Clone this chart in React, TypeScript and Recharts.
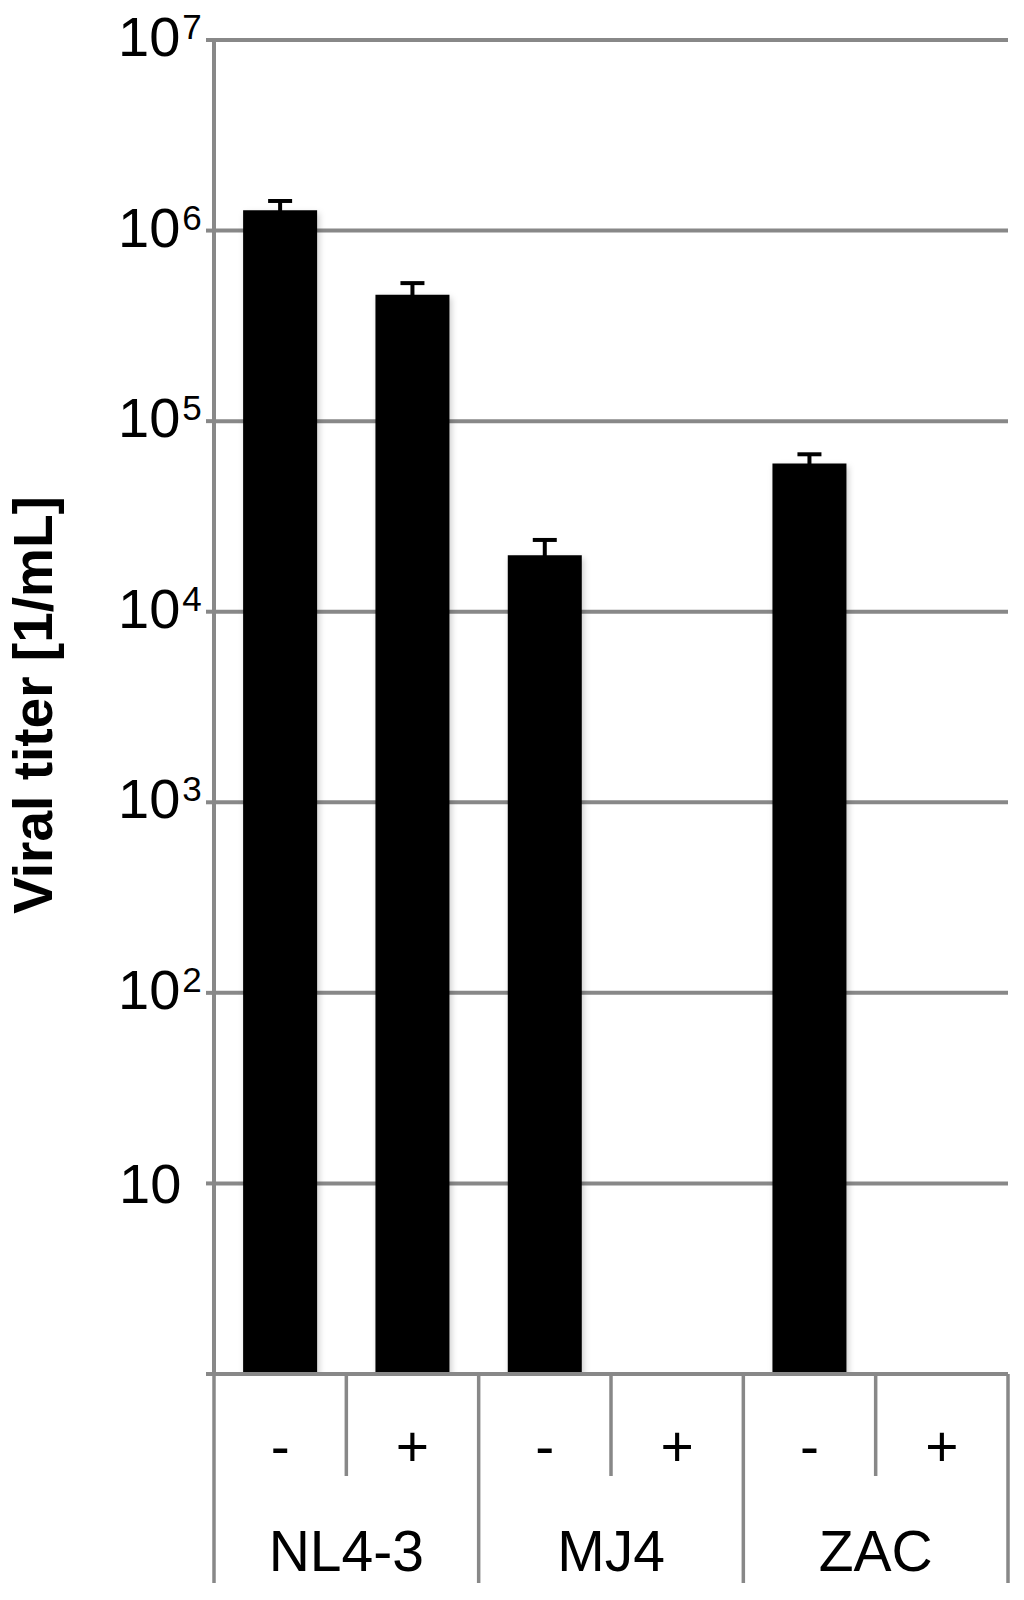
import { BarChart, Bar, XAxis, YAxis, CartesianGrid, ErrorBar } from "recharts";

const conditions = ["-", "+", "-", "+", "-", "+"];
const strains = ["NL4-3", "NL4-3", "MJ4", "MJ4", "ZAC", "ZAC"];
const titers = [1.28e6, 4.6e5, 1.98e4, null, 6.0e4, null];
const titerErrors = [1.5e5, 7e4, 4e3, 0, 7e3, 0];
const yTicks = [1, 10, 100, 1e3, 1e4, 1e5, 1e6, 1e7];

const data = conditions.map((c, i) => ({
    key: `${strains[i]} ${c}`,
    condition: c,
    strain: strains[i],
    titer: titers[i],
    err: titerErrors[i],
}));

const CHART_W = 1024;
const CHART_H = 1600;
const AXIS_W = 214;
const RIGHT = 16;
const BAND = (CHART_W - AXIS_W - RIGHT) / conditions.length;
const GRAY = "#888";
const FONT = "'Liberation Sans', Arial, sans-serif";

const YTick = (props: any) => {
    const { y, payload } = props;
    const v = payload.value;
    if (v <= 1) return null;
    const exp = Math.round(Math.log10(v));
    if (exp === 1) {
        return (
            <text x={119} y={y + 20} fontSize={56} fontFamily={FONT} fill="#000">
                10
            </text>
        );
    }
    return (
        <text x={118} y={y + 16} fontSize={56} fontFamily={FONT} fill="#000">
            10
            <tspan dx={2} dy={-17} fontSize={35}>
                {exp}
            </tspan>
        </text>
    );
};

const XTick = (props: any) => {
    const { x, y, index } = props;
    const half = BAND / 2;
    const isEnd = index % 2 === 1;
    return (
        <g>
            {index === 0 && (
                <line x1={x - half} x2={x - half} y1={y} y2={y + 209} stroke={GRAY} strokeWidth={3.5} />
            )}
            <line x1={x + half} x2={x + half} y1={y} y2={y + (isEnd ? 209 : 102)} stroke={GRAY} strokeWidth={3.5} />
            <text x={x} y={y + 92} fontSize={57} fontFamily={FONT} fill="#000" textAnchor="middle">
                {conditions[index]}
            </text>
            {isEnd && (
                <text x={x - half} y={y + 197} fontSize={57} fontFamily={FONT} fill="#000" textAnchor="middle">
                    {strains[index]}
                </text>
            )}
        </g>
    );
};

export default function App() {
    return (
        <div style={{ width: CHART_W, height: CHART_H, background: "#fff" }}>
            <style>{`body{margin:0}`}</style>
            <BarChart
                width={CHART_W}
                height={CHART_H}
                data={data}
                margin={{ top: 40, right: RIGHT, bottom: 0, left: 0 }}
                barCategoryGap="22%"
            >
                <defs>
                    <filter id="barShadow" x="-20%" y="-5%" width="140%" height="110%">
                        <feDropShadow dx={2} dy={3} stdDeviation={3} floodColor="#000" floodOpacity={0.2} />
                    </filter>
                </defs>
                <CartesianGrid vertical={false} stroke={GRAY} strokeWidth={4} />
                <XAxis
                    dataKey="key"
                    height={CHART_H - 40 - 1334}
                    axisLine={{ stroke: GRAY, strokeWidth: 4 }}
                    tickLine={false}
                    tickSize={0}
                    tickMargin={0}
                    interval={0}
                    tick={<XTick />}
                />
                <YAxis
                    scale="log"
                    domain={[1, 1e7]}
                    ticks={yTicks}
                    allowDataOverflow
                    width={AXIS_W}
                    axisLine={{ stroke: GRAY, strokeWidth: 4 }}
                    tickLine={{ stroke: GRAY, strokeWidth: 4 }}
                    tickSize={8}
                    interval={0}
                    tick={<YTick />}
                    label={{
                        value: "Viral titer [1/mL]",
                        position: "insideLeft",
                        content: () => (
                            <text
                                x={33}
                                y={705}
                                transform="rotate(-90 33 705)"
                                textAnchor="middle"
                                dominantBaseline="central"
                                fontSize={55}
                                fontWeight="bold"
                                fontFamily={FONT}
                                fill="#000"
                            >
                                Viral titer [1/mL]
                            </text>
                        ),
                    }}
                />
                <Bar dataKey="titer" fill="#000" isAnimationActive={false} filter="url(#barShadow)">
                    <ErrorBar dataKey="err" width={12} stroke="#000" strokeWidth={4} isAnimationActive={false} />
                </Bar>
            </BarChart>
        </div>
    );
}
